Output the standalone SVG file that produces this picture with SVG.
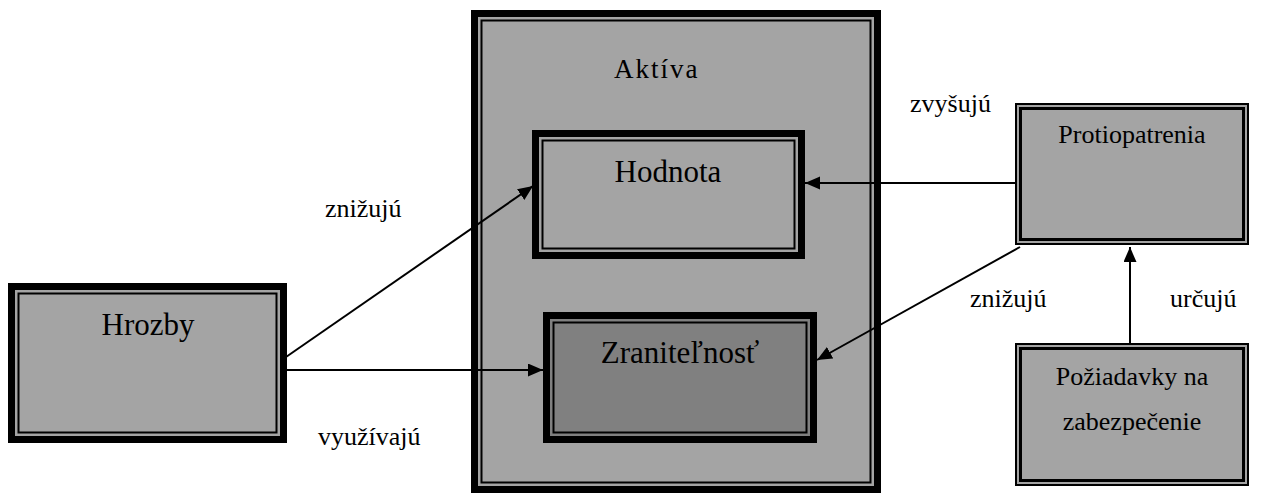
<svg xmlns="http://www.w3.org/2000/svg" width="1268" height="493" viewBox="0 0 1268 493">
  <style>
    .txt { font-family: "Liberation Serif", "Times New Roman", serif; fill: #000; }
    .big { font-size: 31px; }
    .mid { font-size: 26px; }
    .title { font-size: 27px; letter-spacing: 2px; }
    .lbl { font-size: 26px; }
    .thick { fill: #a4a4a4; stroke: #000; stroke-width: 7; }
    .thick.dark { fill: #808080; }
    .thin-in { fill: none; stroke: #000; stroke-width: 2; }
    .dbl-out { fill: #a4a4a4; stroke: #000; stroke-width: 2; }
    .dbl-in { fill: none; stroke: #000; stroke-width: 3; }
    .conn { fill: none; stroke: #000; stroke-width: 2; marker-end: url(#arrow); }
  </style>
  <defs>
    <marker id="arrow" markerUnits="userSpaceOnUse" markerWidth="16" markerHeight="14" refX="15" refY="6.5" orient="auto">
      <path d="M0,0 L15,6.5 L0,13 Z" fill="#000"/>
    </marker>
  </defs>
  <rect width="1268" height="493" fill="#fff"/>

  <g id="aktiva">
    <rect class="thick" x="474.5" y="13.5" width="403" height="476"/>
    <rect class="thin-in" x="481.5" y="20.5" width="389" height="462"/>
    <text class="txt title" x="614" y="78">Aktíva</text>
  </g>

  <g id="hodnota">
    <rect class="thick" x="535.5" y="133.5" width="266" height="122"/>
    <rect class="thin-in" x="542.5" y="140.5" width="252" height="108"/>
    <text class="txt big" x="668" y="182" text-anchor="middle">Hodnota</text>
  </g>

  <g id="zranitelnost">
    <rect class="thick dark" x="546.5" y="315.5" width="267" height="124"/>
    <rect class="thin-in" x="553.5" y="322.5" width="253" height="110"/>
    <text class="txt big" x="680" y="363" text-anchor="middle">Zraniteľnosť</text>
  </g>

  <g id="hrozby">
    <rect class="thick" x="11.5" y="286.5" width="272" height="153"/>
    <rect class="thin-in" x="18.5" y="293.5" width="258" height="139"/>
    <text class="txt big" x="148" y="335" text-anchor="middle">Hrozby</text>
  </g>

  <g id="protiopatrenia">
    <rect class="dbl-out" x="1016" y="104" width="232" height="140"/>
    <rect class="dbl-in" x="1020.5" y="108.5" width="223" height="131"/>
    <text class="txt mid" x="1132" y="143" text-anchor="middle">Protiopatrenia</text>
  </g>

  <g id="poziadavky">
    <rect class="dbl-out" x="1016" y="344" width="232" height="141"/>
    <rect class="dbl-in" x="1020.5" y="348.5" width="223" height="132"/>
    <text class="txt mid" x="1132" y="385" text-anchor="middle">Požiadavky na</text>
    <text class="txt mid" x="1132" y="430" text-anchor="middle">zabezpečenie</text>
  </g>

  <g id="connectors">
    <line class="conn" x1="286" y1="357" x2="533" y2="186"/>
    <line class="conn" x1="287" y1="370" x2="543" y2="370"/>
    <line class="conn" x1="1016" y1="183" x2="805" y2="183"/>
    <line class="conn" x1="1020" y1="247" x2="817" y2="360"/>
    <line class="conn" x1="1130" y1="343" x2="1130" y2="247"/>
  </g>

  <g id="labels">
    <text class="txt lbl" x="325" y="217">znižujú</text>
    <text class="txt lbl" x="318" y="445">využívajú</text>
    <text class="txt lbl" x="910" y="112">zvyšujú</text>
    <text class="txt lbl" x="970" y="307">znižujú</text>
    <text class="txt lbl" x="1170" y="307">určujú</text>
  </g>
</svg>
